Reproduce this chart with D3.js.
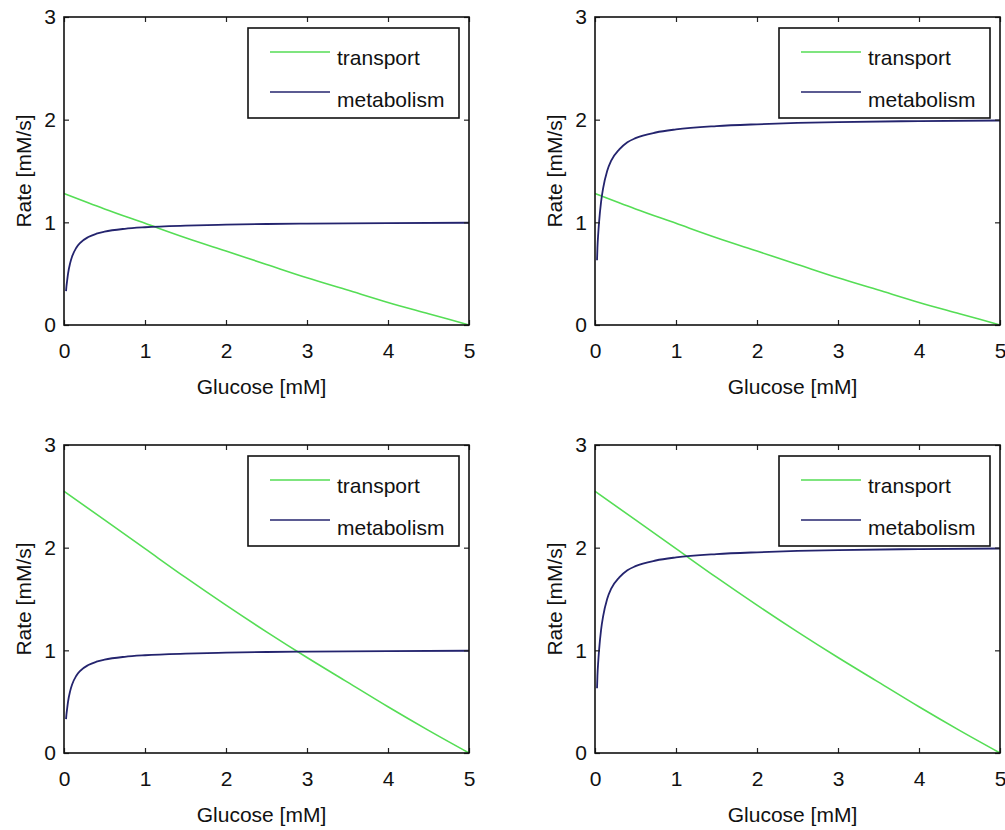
<!DOCTYPE html>
<html>
<head>
<meta charset="utf-8">
<script src="https://cdn.jsdelivr.net/npm/d3@7"></script>
<style>
  html, body { margin: 0; padding: 0; background: #fff; }
  svg { display: block; }
  text { font-family: "Liberation Sans", Arial, sans-serif; fill: #111; }
</style>
</head>
<body>
<svg id="chart" width="1005" height="830"></svg>
<script>
// ---- data ----
const xTicks = [0, 1, 2, 3, 4, 5];
const yTicks = [0, 1, 2, 3];
const seriesNames = ["transport", "metabolism"];

const glucoseCoarse = [0, 0.5, 1, 1.5, 2, 2.5, 3, 3.5, 4, 4.5, 5];
const transportLow  = [1.28, 1.13, 0.99, 0.85, 0.72, 0.59, 0.46, 0.34, 0.22, 0.11, 0.0];
const transportHigh = [2.55, 2.27, 1.99, 1.71, 1.44, 1.18, 0.93, 0.69, 0.45, 0.22, 0.0];

const glucoseFine     = [0.025, 0.03, 0.04, 0.05, 0.075, 0.1, 0.15, 0.2, 0.3, 0.4, 0.5, 0.75, 1.0, 1.5, 2.0, 2.5, 3.0, 4.0, 5.0];
const metabolismLow   = [0.33, 0.375, 0.44, 0.50, 0.60, 0.667, 0.75, 0.80, 0.857, 0.889, 0.909, 0.937, 0.952, 0.968, 0.977, 0.984, 0.988, 0.993, 0.996];
const metabolismHigh  = [0.63, 0.75, 0.89, 1.00, 1.20, 1.33, 1.50, 1.60, 1.71, 1.78, 1.82, 1.875, 1.905, 1.937, 1.955, 1.968, 1.977, 1.986, 1.992];

const panelData = [
  { transport: transportLow,  metabolism: metabolismLow  },
  { transport: transportLow,  metabolism: metabolismHigh },
  { transport: transportHigh, metabolism: metabolismLow  },
  { transport: transportHigh, metabolism: metabolismHigh }
];

// ---- layout ----
const panelBoxes = [
  { x: 64,  y: 17,  w: 405, h: 308 },
  { x: 595, y: 17,  w: 405, h: 308 },
  { x: 64,  y: 445, w: 405, h: 308 },
  { x: 595, y: 445, w: 405, h: 308 }
];
const colors = { transport: "#55dd55", metabolism: "#24246e" };
const fontSize = 21;

const svg = d3.select("#chart");

panelBoxes.forEach((b, i) => {
  const d = panelData[i];
  const g = svg.append("g").attr("transform", `translate(${b.x},${b.y})`);
  const x = d3.scaleLinear().domain([0, 5]).range([0, b.w]);
  const y = d3.scaleLinear().domain([0, 3]).range([b.h, 0]);

  // lines
  const line = d3.line().x(p => x(p[0])).y(p => y(p[1])).curve(d3.curveMonotoneX);
  const tPts = glucoseCoarse.map((gx, k) => [gx, d.transport[k]]);
  const mPts = glucoseFine.map((gx, k) => [gx, d.metabolism[k]]);
  g.append("path").datum(tPts).attr("d", line)
    .attr("fill", "none").attr("stroke", colors.transport).attr("stroke-width", 1.6);
  g.append("path").datum(mPts).attr("d", line)
    .attr("fill", "none").attr("stroke", colors.metabolism).attr("stroke-width", 1.8);

  // axes (ticks inward)
  const tickLen = 5;
  const axB = g.append("g").attr("transform", `translate(0,${b.h})`)
    .call(d3.axisBottom(x).tickValues(xTicks).tickSize(-tickLen).tickPadding(18).tickFormat(d3.format("d")));
  const axT = g.append("g")
    .call(d3.axisTop(x).tickValues(xTicks).tickSize(-tickLen).tickFormat(""));
  const axL = g.append("g")
    .call(d3.axisLeft(y).tickValues(yTicks).tickSize(-tickLen).tickPadding(8).tickFormat(d3.format("d")));
  const axR = g.append("g").attr("transform", `translate(${b.w},0)`)
    .call(d3.axisRight(y).tickValues(yTicks).tickSize(-tickLen).tickFormat(""));
  [axB, axT, axL, axR].forEach(a => {
    a.select(".domain").remove();
    a.selectAll(".tick line").attr("stroke", "#222").attr("stroke-width", 1.2);
    a.selectAll(".tick text").attr("font-size", fontSize).attr("fill", "#111")
      .attr("font-family", "'Liberation Sans', Arial, sans-serif");
  });
  axB.selectAll(".tick text").attr("dy", "0.71em");

  g.append("rect").attr("x", 0).attr("y", 0).attr("width", b.w).attr("height", b.h)
    .attr("fill", "none").attr("stroke", "#111").attr("stroke-width", 1.6);

  // axis labels
  g.append("text").attr("x", b.w / 2 - 5).attr("y", b.h + 69)
    .attr("text-anchor", "middle").attr("font-size", fontSize).text("Glucose [mM]");
  g.append("text").attr("transform", `translate(-33,${b.h / 2}) rotate(-90)`)
    .attr("text-anchor", "middle").attr("font-size", fontSize).text("Rate [mM/s]");

  // legend
  const lw = 211, lh = 90;
  const lg = g.append("g").attr("transform", `translate(${b.w - lw - 10},11)`);
  lg.append("rect").attr("width", lw).attr("height", lh)
    .attr("fill", "#fff").attr("stroke", "#111").attr("stroke-width", 1.6);
  const rows = [
    { name: seriesNames[0], color: colors.transport, ly: 24, ty: 37 },
    { name: seriesNames[1], color: colors.metabolism, ly: 64, ty: 79 }
  ];
  rows.forEach(r => {
    lg.append("line").attr("x1", 22).attr("x2", 82).attr("y1", r.ly).attr("y2", r.ly)
      .attr("stroke", r.color).attr("stroke-width", 1.6);
    lg.append("text").attr("x", 89).attr("y", r.ty).attr("font-size", fontSize).text(r.name);
  });
});
</script>
</body>
</html>
